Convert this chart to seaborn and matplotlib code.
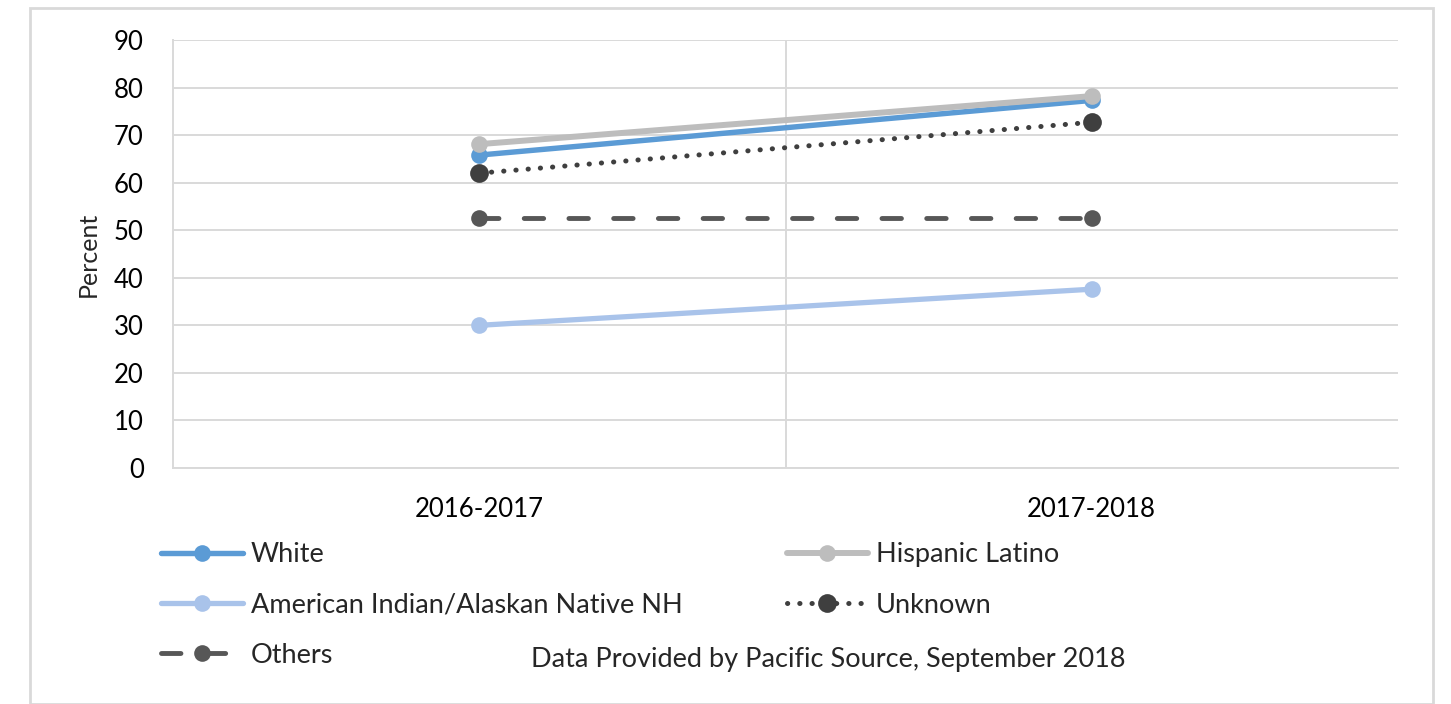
import pandas as pd
import matplotlib
matplotlib.use("Agg")
import matplotlib.pyplot as plt
import seaborn as sns
from matplotlib.patches import Rectangle

years = ["2016-2017", "2017-2018"]
white = [65.8, 77.3]
hispanic = [68.1, 78.2]
aian = [30.0, 37.6]
unknown = [62.0, 72.7]
others = [52.6, 52.6]

groups = ["White", "Hispanic Latino", "American Indian/Alaskan Native NH", "Unknown", "Others"]
series = [white, hispanic, aian, unknown, others]

df = pd.DataFrame({
    "year": [y for s in series for y in years],
    "pos": [i for s in series for i in range(len(years))],
    "value": [v for s in series for v in s],
    "group": [g for g, s in zip(groups, series) for _ in s],
})

palette = {
    "White": "#5B9BD5",
    "Hispanic Latino": "#BDBDBD",
    "American Indian/Alaskan Native NH": "#A9C3EA",
    "Unknown": "#3F3F3F",
    "Others": "#575757",
}
dashes = {
    "White": "",
    "Hispanic Latino": "",
    "American Indian/Alaskan Native NH": "",
    "Unknown": (0.05, 2.4),
    "Others": (4.0, 5.2),
}
widths = {
    "White": 3.9,
    "Hispanic Latino": 4.3,
    "American Indian/Alaskan Native NH": 3.8,
    "Unknown": 3.6,
    "Others": 3.5,
}
msizes = {
    "White": 12,
    "Hispanic Latino": 12,
    "American Indian/Alaskan Native NH": 12,
    "Unknown": 13.5,
    "Others": 12,
}

sns.set_theme(style="white")
plt.rcParams["font.family"] = ["Lato", "DejaVu Sans"]

fig = plt.figure(figsize=(14.51, 7.04), dpi=100)
fig.patches.append(Rectangle((30 / 1451, 0), 1403 / 1451, 1 - 8 / 704, transform=fig.transFigure,
                             fill=False, edgecolor="#D9D9D9", linewidth=2))
ax = fig.add_axes([173 / 1451, 1 - 468 / 704, 1225 / 1451, 428 / 704])

handles = {}
for g in groups:
    sub = df[df["group"] == g]
    sns.lineplot(data=sub, x="pos", y="value", ax=ax, color=palette[g],
                 linewidth=widths[g], marker="o", markersize=msizes[g],
                 markeredgewidth=0, dashes=False, legend=False)
    line = ax.lines[-1]
    line.set_solid_capstyle("round")
    if dashes[g]:
        line.set_dashes(dashes[g])
        line.set_dash_capstyle("round")
    handles[g] = line

ax.set_xlim(-0.5, 1.5)
ax.set_ylim(0, 90)
ax.set_yticks(range(0, 91, 10))
ax.set_xticks([0, 1])
ax.set_xticklabels(years)
ax.grid(axis="y", color="#D9D9D9", linewidth=1.4)
ax.axvline(0.5, color="#D9D9D9", linewidth=1.4, zorder=0)
for side in ["top", "right"]:
    ax.spines[side].set_visible(False)
for side in ["left", "bottom"]:
    ax.spines[side].set_color("#D9D9D9")
    ax.spines[side].set_linewidth(1.4)
ax.set_axisbelow(True)
ax.tick_params(axis="y", length=0, pad=21, labelsize=18.5, colors="black")
ax.tick_params(axis="x", length=0, pad=21, labelsize=18.5, colors="black")
ax.set_xlabel("")
ax.set_ylabel("Percent", fontsize=18, labelpad=10)

order = ["White", "American Indian/Alaskan Native NH", "Others", "Hispanic Latino", "Unknown"]
leg = fig.legend([handles[g] for g in order], order, loc="upper left",
                 bbox_to_anchor=(137 / 1451, 1 - 518 / 704), ncol=2, frameon=False,
                 fontsize=19.5, handlelength=3.0, handletextpad=0.3,
                 columnspacing=3.85, labelspacing=0.93)

fig.text(828 / 1451, 1 - 660 / 704, "Data Provided by Pacific Source, September 2018",
         ha="center", va="center", fontsize=19.5)

fig.savefig("out.png", dpi=100)
